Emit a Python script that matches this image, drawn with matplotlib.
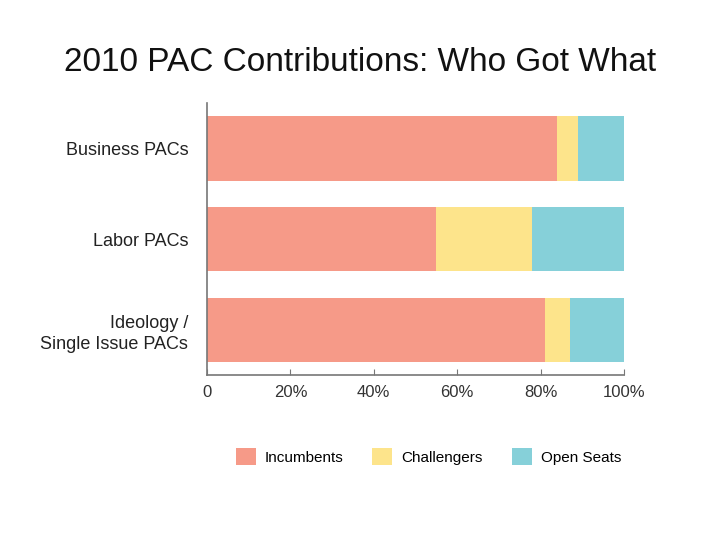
import matplotlib
matplotlib.use("Agg")
import matplotlib.pyplot as plt
from matplotlib.patches import Patch

# shares of PAC contributions (percent)
categories = ["Business PACs", "Labor PACs", "Ideology /\nSingle Issue PACs"]
incumbents = [84, 55, 81]
challengers = [5, 23, 6]
open_seats = [11, 22, 13]
series_names = ["Incumbents", "Challengers", "Open Seats"]
colors = ["#F69A88", "#FDE48B", "#86D0D9"]
xticks = [0, 20, 40, 60, 80, 100]
xtick_labels = ["0", "20%", "40%", "60%", "80%", "100%"]

plt.rcParams["font.family"] = ["Liberation Sans", "DejaVu Sans"]

fig = plt.figure(figsize=(7.2, 5.4), dpi=100)
ax = fig.add_axes([0.2875, 0.3056, 0.579, 0.503])

ypos = list(range(len(categories)))
left = [0] * len(categories)
for vals, c in zip([incumbents, challengers, open_seats], colors):
    ax.barh(ypos, vals, left=left, height=0.71, color=c, edgecolor="none")
    left = [l + v for l, v in zip(left, vals)]

ax.set_xlim(0, 100)
ax.set_ylim(2.5, -0.5)
ax.set_yticks(ypos)
ax.set_yticklabels(categories, fontsize=13, color="#222222", ha="right",
                   multialignment="right", linespacing=1.3)
ax.tick_params(axis="y", length=0, pad=13.5)
ax.set_xticks(xticks)
ax.set_xticklabels(xtick_labels, fontsize=12, color="#333333")
ax.tick_params(axis="x", direction="in", length=4, color="#777777", pad=7)
for s in ["top", "right"]:
    ax.spines[s].set_visible(False)
for s in ["left", "bottom"]:
    ax.spines[s].set_color("#777777")
    ax.spines[s].set_linewidth(1.2)

fig.text(0.5, 0.885, "2010 PAC Contributions: Who Got What", ha="center",
         va="center", fontsize=24, color="#111111")

handles = [Patch(facecolor=c, edgecolor="none", label=n)
           for c, n in zip(colors, series_names)]
fig.legend(handles=handles, loc="center", bbox_to_anchor=(0.595, 0.154),
           ncol=3, frameon=False, fontsize=11, handlelength=1.31,
           handleheight=1.31, handletextpad=0.59, columnspacing=1.9)

fig.savefig("out.png", dpi=100)
